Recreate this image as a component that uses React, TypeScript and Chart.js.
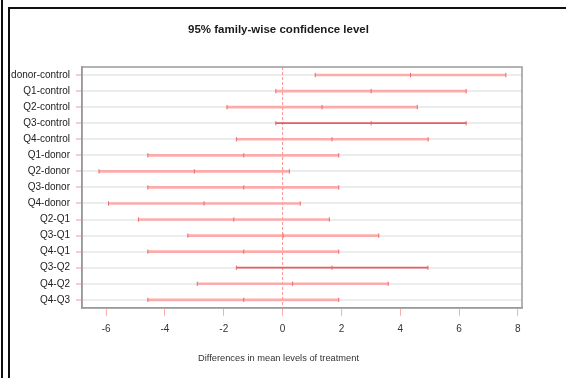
import React, { useEffect, useRef } from "react";
import { Chart, registerables } from "chart.js";

Chart.register(...registerables);

// ---- data ----
const comparisons = [
  "donor-control", "Q1-control", "Q2-control", "Q3-control", "Q4-control",
  "Q1-donor", "Q2-donor", "Q3-donor", "Q4-donor",
  "Q2-Q1", "Q3-Q1", "Q4-Q1", "Q3-Q2", "Q4-Q2", "Q4-Q3",
];
const diff = [4.35, 3.01, 1.34, 3.01, 1.68, -1.32, -3.0, -1.32, -2.67, -1.66, 0.02, -1.32, 1.68, 0.34, -1.32];
const lwr = [1.11, -0.23, -1.89, -0.23, -1.57, -4.58, -6.24, -4.58, -5.92, -4.9, -3.22, -4.58, -1.57, -2.9, -4.58];
const upr = [7.59, 6.24, 4.58, 6.24, 4.95, 1.91, 0.23, 1.91, 0.6, 1.59, 3.27, 1.91, 4.94, 3.59, 1.91];
const xTicks = [-6, -4, -2, 0, 2, 4, 6, 8];
const titleText = "95% family-wise confidence level";
const xTitle = "Differences in mean levels of treatment";

// ---- style ----
const darkRows = ["Q3-control", "Q3-Q2"];
const PALE = "rgba(255,160,160,0.85)";
const DARK = "rgba(230,80,80,0.9)";
const CAP = "rgba(240,100,100,0.95)";
const FONT = "'Liberation Sans', Arial, sans-serif";

const boxPlugin = {
  id: "boxAndZero",
  beforeDatasetsDraw(chart: any) {
    const { ctx, chartArea, scales } = chart;
    const x0 = scales.x.getPixelForValue(0);
    ctx.save();
    ctx.strokeStyle = "rgba(255,110,110,0.75)";
    ctx.lineWidth = 1;
    ctx.setLineDash([3, 2]);
    ctx.beginPath();
    ctx.moveTo(x0, chartArea.top);
    ctx.lineTo(x0, chartArea.bottom);
    ctx.stroke();
    ctx.restore();
  },
  afterDraw(chart: any) {
    const { ctx, chartArea } = chart;
    ctx.save();
    ctx.strokeStyle = "#9a9a9a";
    ctx.lineWidth = 1.5;
    ctx.strokeRect(chartArea.left, chartArea.top, chartArea.right - chartArea.left, chartArea.bottom - chartArea.top);
    ctx.restore();
  },
};

export default function App() {
  const ref = useRef<HTMLCanvasElement | null>(null);

  useEffect(() => {
    document.body.style.margin = "0";
    if (!ref.current) return;
    const isDark = (c: string) => darkRows.includes(c);
    const marks: any[] = [];
    comparisons.forEach((c, i) => {
      marks.push({ x: lwr[i], y: c });
      marks.push({ x: diff[i], y: c });
      marks.push({ x: upr[i], y: c });
    });
    const chart = new Chart(ref.current, {
      type: "bar",
      data: {
        labels: comparisons,
        datasets: [
          {
            type: "bar",
            data: comparisons.map((c, i) => (isDark(c) ? null : [lwr[i], upr[i]])) as any,
            backgroundColor: PALE,
            barThickness: 2,
            grouped: false,
            order: 2,
          } as any,
          {
            type: "bar",
            data: comparisons.map((c, i) => (isDark(c) ? [lwr[i], upr[i]] : null)) as any,
            backgroundColor: DARK,
            barThickness: 1,
            grouped: false,
            order: 1,
          } as any,
          {
            type: "scatter",
            data: marks,
            pointStyle: "line",
            rotation: 90,
            radius: 2.2,
            borderColor: CAP,
            borderWidth: 1,
            order: 0,
          } as any,
        ],
      },
      options: {
        indexAxis: "y",
        animation: false,
        responsive: false,
        maintainAspectRatio: false,
        layout: { padding: { left: 10, right: 19, top: 0, bottom: 0 } },
        plugins: {
          legend: { display: false },
          tooltip: { enabled: false },
          title: {
            display: true,
            text: titleText,
            color: "#1a1a1a",
            font: { family: FONT, size: 11.5, weight: "bold" },
            padding: { top: 22.5, bottom: 30.7 },
          },
          subtitle: {
            display: true,
            position: "bottom",
            text: xTitle,
            color: "#333",
            font: { family: FONT, size: 9.3 },
            padding: { top: 11, bottom: 14 },
          },
        },
        scales: {
          x: {
            type: "linear",
            min: -6.82,
            max: 8.14,
            afterBuildTicks: (scale: any) => {
              scale.ticks = xTicks.map((v) => ({ value: v }));
            },
            ticks: {
              color: "#333",
              font: { family: FONT, size: 10 },
              padding: 7,
            },
            grid: {
              drawOnChartArea: false,
              drawTicks: true,
              tickLength: 8,
              tickColor: "rgba(255,150,150,0.8)",
            },
            border: { display: true, color: "#9a9a9a", width: 1.5 },
          },
          y: {
            type: "category",
            afterFit: (scale: any) => {
              scale.width = 72;
            },
            ticks: {
              color: "#222",
              font: { family: FONT, size: 10 },
              padding: 6,
            },
            grid: {
              offset: false,
              color: "#ececec",
              lineWidth: 2,
              drawTicks: true,
              tickLength: 6,
              tickColor: "rgba(255,130,130,0.85)",
              tickWidth: 1,
            },
            border: { display: true, color: "#9a9a9a", width: 1.5 },
          },
          yr: {
            type: "category",
            position: "right",
            display: true,
            ticks: { display: false },
            grid: { display: false, drawTicks: false },
            border: { display: false },
            afterFit: (scale: any) => {
              scale.width = 25;
            },
          },
        },
      } as any,
      plugins: [boxPlugin],
    });
    return () => chart.destroy();
  }, []);

  return (
    <div style={{ position: "relative", width: 566, height: 378, background: "#fff", overflow: "hidden" }}>
      <canvas ref={ref} width={566} height={378} style={{ position: "absolute", left: 0, top: 0 }} />
      <div
        style={{
          position: "absolute",
          left: 1,
          top: -10,
          width: 2,
          height: 400,
          background: "#111",
        }}
      />
      <div
        style={{
          position: "absolute",
          left: 8,
          top: 7,
          width: 700,
          height: 500,
          borderLeft: "2px solid #111",
          borderTop: "2px solid #111",
          boxSizing: "border-box",
        }}
      />
    </div>
  );
}
